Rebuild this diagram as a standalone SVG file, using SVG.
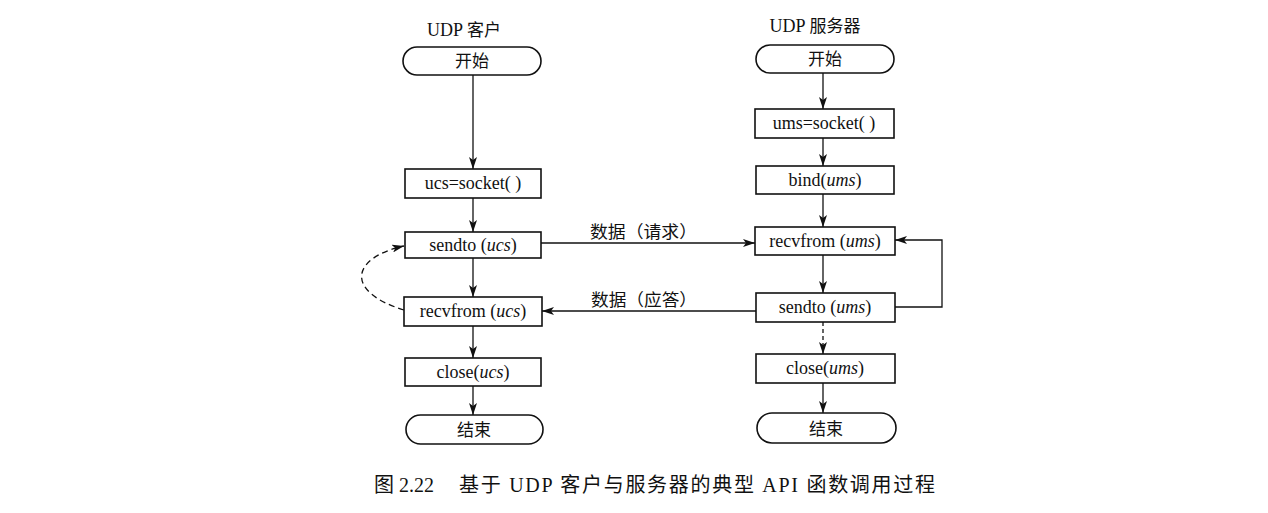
<svg xmlns="http://www.w3.org/2000/svg" width="1268" height="513" viewBox="0 0 1268 513">
<style>
.b{fill:#fff;stroke:#111;stroke-width:1.6}
.t{font-family:"Liberation Serif","Noto Sans CJK SC",serif;font-size:18px;fill:#111;text-anchor:middle}
.c{font-family:"Liberation Serif","Noto Sans CJK SC",serif;font-size:17px;fill:#111}
.cap{font-family:"Liberation Serif","Noto Sans CJK SC",serif;font-size:20px;fill:#111}
.l{fill:none;stroke:#111;stroke-width:1.3}
.d{fill:none;stroke:#111;stroke-width:1.3;stroke-dasharray:6,4}
</style>
<defs>
<marker id="a" viewBox="0 0 12 8" refX="12" refY="4" markerWidth="12" markerHeight="8" markerUnits="userSpaceOnUse" orient="auto">
<path d="M0,0 L12,4 L0,8 L3,4 Z" fill="#111"/>
</marker>
</defs>
<rect width="1268" height="513" fill="#fff"/>
<text class="t" x="464" y="36">UDP <tspan class="c">客户</tspan></text>
<text class="t" x="815" y="32">UDP <tspan class="c">服务器</tspan></text>
<g id="connectors">
<line class="l" x1="473" y1="75" x2="473" y2="169" marker-end="url(#a)"/>
<line class="l" x1="473" y1="198" x2="473" y2="232" marker-end="url(#a)"/>
<line class="l" x1="473" y1="258" x2="473" y2="297" marker-end="url(#a)"/>
<line class="l" x1="473" y1="326" x2="473" y2="358" marker-end="url(#a)"/>
<line class="l" x1="473" y1="386" x2="473" y2="415" marker-end="url(#a)"/>
<path class="d" d="M404,310 C345,292 350,258 404,246" marker-end="url(#a)"/>
<line class="l" x1="823" y1="73" x2="823" y2="109" marker-end="url(#a)"/>
<line class="l" x1="823" y1="138" x2="823" y2="166" marker-end="url(#a)"/>
<line class="l" x1="823" y1="194" x2="823" y2="227" marker-end="url(#a)"/>
<line class="l" x1="823" y1="255" x2="823" y2="293" marker-end="url(#a)"/>
<line class="l" x1="823" y1="322" x2="823" y2="354" stroke-dasharray="4,3" marker-end="url(#a)"/>
<line class="l" x1="823" y1="383" x2="823" y2="413" marker-end="url(#a)"/>
<polyline class="l" points="895,307 942,307 942,240 895,240" marker-end="url(#a)"/>
<line class="l" x1="541" y1="243" x2="755" y2="243" marker-end="url(#a)"/>
<line class="l" x1="756" y1="311" x2="542" y2="311" marker-end="url(#a)"/>
<text class="c" x="590" y="238" textLength="107" lengthAdjust="spacingAndGlyphs">数据（请求）</text>
<text class="c" x="591" y="306" textLength="106" lengthAdjust="spacingAndGlyphs">数据（应答）</text>
</g>
<g id="c-start"><rect class="b" x="403" y="47" width="138" height="28" rx="14"/><text class="c" x="472" y="67" text-anchor="middle">开始</text></g>
<g id="c-socket"><rect class="b" x="405" y="169" width="136" height="29"/><text class="t" x="473" y="189">ucs=socket( )</text></g>
<g id="c-sendto"><rect class="b" x="405" y="232" width="136" height="26"/><text class="t" x="473" y="251">sendto (<tspan font-style="italic">ucs</tspan>)</text></g>
<g id="c-recvfrom"><rect class="b" x="404" y="297" width="138" height="29"/><text class="t" x="473" y="317">recvfrom (<tspan font-style="italic">ucs</tspan>)</text></g>
<g id="c-close"><rect class="b" x="405" y="358" width="136" height="28"/><text class="t" x="473" y="378">close(<tspan font-style="italic">ucs</tspan>)</text></g>
<g id="c-end"><rect class="b" x="406" y="415" width="137" height="29" rx="14.5"/><text class="c" x="474" y="436" text-anchor="middle">结束</text></g>
<g id="s-start"><rect class="b" x="756" y="45" width="138" height="28" rx="14"/><text class="c" x="825" y="65" text-anchor="middle">开始</text></g>
<g id="s-socket"><rect class="b" x="755" y="109" width="139" height="29"/><text class="t" x="824" y="129">ums=socket( )</text></g>
<g id="s-bind"><rect class="b" x="756" y="166" width="138" height="28"/><text class="t" x="825" y="186">bind(<tspan font-style="italic">ums</tspan>)</text></g>
<g id="s-recvfrom"><rect class="b" x="755" y="227" width="140" height="28"/><text class="t" x="825" y="247">recvfrom (<tspan font-style="italic">ums</tspan>)</text></g>
<g id="s-sendto"><rect class="b" x="756" y="293" width="139" height="29"/><text class="t" x="825" y="313">sendto (<tspan font-style="italic">ums</tspan>)</text></g>
<g id="s-close"><rect class="b" x="756" y="354" width="139" height="29"/><text class="t" x="825" y="374">close(<tspan font-style="italic">ums</tspan>)</text></g>
<g id="s-end"><rect class="b" x="757" y="413" width="139" height="30" rx="15"/><text class="c" x="826" y="435" text-anchor="middle">结束</text></g>
<g id="caption">
<text class="cap" x="374" y="492">图 2.22</text>
<text class="cap" x="459" y="492" textLength="476" lengthAdjust="spacing">基于 UDP 客户与服务器的典型 API 函数调用过程</text>
</g>
</svg>
